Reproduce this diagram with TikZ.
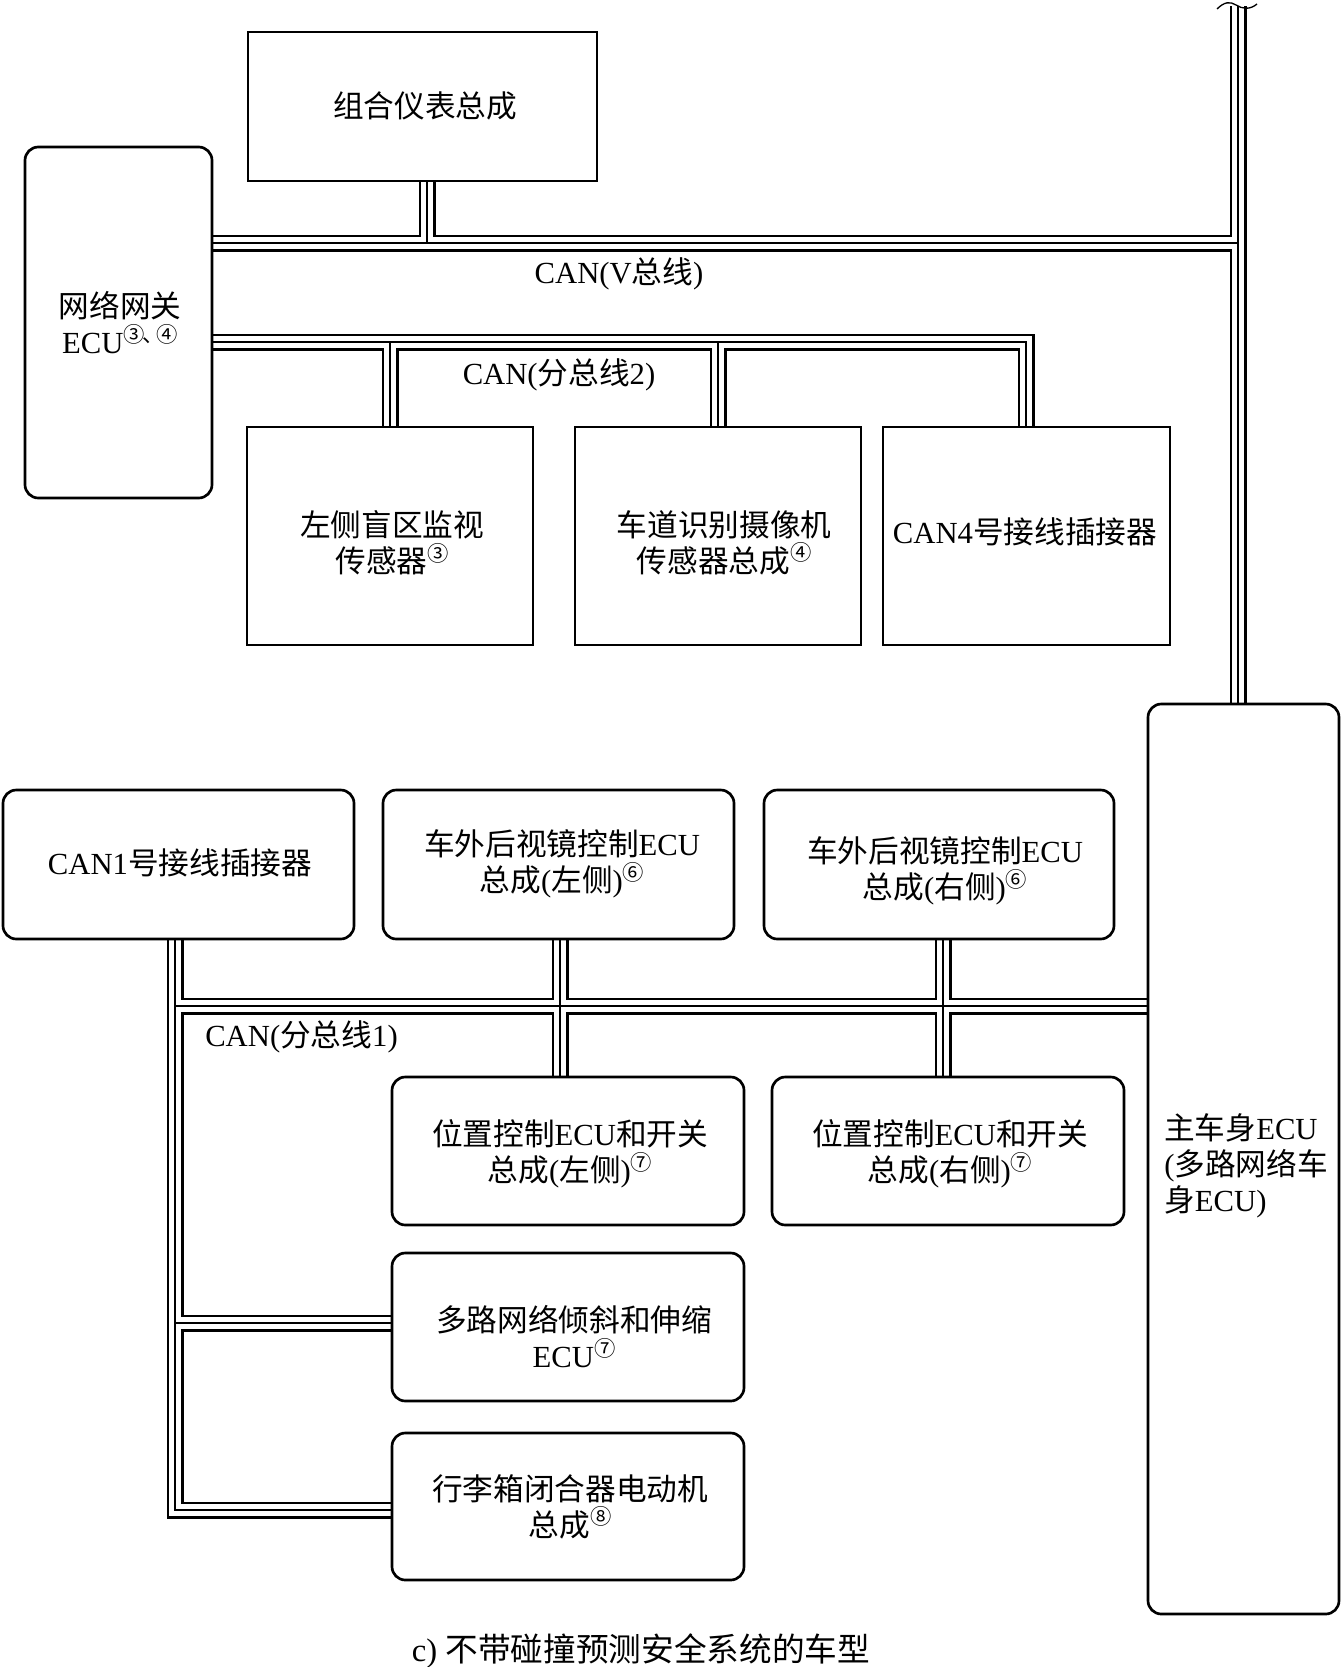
\documentclass[tikz,border=0pt]{standalone}
\usepackage{fontspec}
\setmainfont{Liberation Serif}
\newfontfamily\cjk{Noto Sans CJK SC}
\newcommand\zh[1]{{\cjk #1}}
\newcommand\cn[1]{\raisebox{0.38em}{\fontsize{16}{16}\selectfont\cjk #1}}
\usetikzlibrary{backgrounds}
\pgfdeclarelayer{bottom}
\pgfsetlayers{bottom,background,main}
\newcommand\bx[6]{\node[#2,minimum width={(#5-#3)*0.75pt},minimum height={(#6-#4)*0.75pt}] (#1) at ({(#3+#5)/2},{(#4+#6)/2}) {};}
\begin{document}
\begin{tikzpicture}[x=0.75pt,y=-0.75pt,
  sbox/.style={draw,fill=white,line width=2pt,inner sep=0pt,outer sep=0pt},
  rbox/.style={sbox,rounded corners=10pt},
  txt/.style={align=center,inner sep=0pt,font=\fontsize{23}{27}\selectfont},
  busout/.style={line width=12.75pt,line join=miter},
  busin/.style={white,line width=8.7pt,line join=miter},
  busmid/.style={line width=0.8pt,line join=miter}]
\begin{pgfonlayer}{bottom}
\fill[white] (0,0) rectangle (1341,1667);
\end{pgfonlayer}
\useasboundingbox (0,0) rectangle (1341,1667);

% boxes
\bx{cm}{sbox}{248}{32}{597}{181}
\bx{gw}{rbox}{25}{147}{212}{498}
\bx{s1}{sbox}{247}{427}{533}{645}
\bx{s2}{sbox}{575}{427}{861}{645}
\bx{s3}{sbox}{883}{427}{1170}{645}
\bx{mb}{rbox}{1148}{704}{1339}{1614}
\bx{r1}{rbox}{3}{790}{354}{939}
\bx{r2}{rbox}{383}{790}{734}{939}
\bx{r3}{rbox}{764}{790}{1114}{939}
\bx{p1}{rbox}{392}{1077}{744}{1225}
\bx{p2}{rbox}{772}{1077}{1124}{1225}
\bx{t1}{rbox}{392}{1253}{744}{1401}
\bx{t2}{rbox}{392}{1433}{744}{1580}

% junction coordinates
\coordinate (vj) at (1238,243);
\coordinate (cj) at (427,243);
\coordinate (rtop) at (1238,6);
\coordinate (b2c) at (1026,342);
\coordinate (b1v) at (175,1510);
\coordinate (b1h) at (175,1006);
\coordinate (b1t) at (175,1323);
\coordinate (xl) at (560,1006);
\coordinate (xr) at (943,1006);

\newcommand\allbus[1]{%
  \draw[#1] (gw.east |- vj) -- (vj);
  \draw[#1] (cm.south -| cj) -- (cj);
  \draw[#1] (rtop) -- (mb.north -| rtop);
  \draw[#1] (gw.east |- b2c) -- (b2c) -- (b2c |- s3.north);
  \draw[#1] (s1.north |- b2c) -- (s1.north);
  \draw[#1] (s2.north |- b2c) -- (s2.north);
  \draw[#1] (r1.south -| b1v) -- (b1v) -- (t2.west |- b1v);
  \draw[#1] (b1h) -- (mb.west |- b1h);
  \draw[#1] (b1t) -- (t1.west |- b1t);
  \draw[#1] (r2.south -| xl) -- (p1.north -| xl);
  \draw[#1] (r3.south -| xr) -- (p2.north -| xr);
}
\begin{pgfonlayer}{background}
\allbus{busout}
\allbus{busin}
\allbus{busmid}
\end{pgfonlayer}

% break mark at top of right bus
\draw[line width=1pt] (1217,9) .. controls (1224,2) and (1230,1) .. (1236,5) .. controls (1242,9) and (1250,10) .. (1257,4);

% texts
\node[txt] (tcm) at (425,106) {\zh{组合仪表总成}};
\node[txt] (tgw) at (120,323) {\zh{网络网关}\\ECU\cn{③\kern-0.1em、\kern-0.35em④}};
\node[txt] (ts1) at (392,543) {\zh{左侧盲区监视}\\\zh{传感器}\cn{③}};
\node[txt] (ts2) at (724,543) {\zh{车道识别摄像机}\\\zh{传感器总成}\cn{④}};
\node[txt] (ts3) at (1025,532) {CAN4\zh{号接线插接器}};
\node[txt] (tr1) at (180,863) {CAN1\zh{号接线插接器}};
\node[txt] (tr2) at (562,864) {\zh{车外后视镜控制}ECU\\\zh{总成}(\zh{左侧})\cn{⑥}};
\node[txt] (tr3) at (945,871) {\zh{车外后视镜控制}ECU\\\zh{总成}(\zh{右侧})\cn{⑥}};
\node[txt] (tp1) at (570,1154) {\zh{位置控制}ECU\zh{和开关}\\\zh{总成}(\zh{左侧})\cn{⑦}};
\node[txt] (tp2) at (950,1154) {\zh{位置控制}ECU\zh{和开关}\\\zh{总成}(\zh{右侧})\cn{⑦}};
\node[txt] (tt1) at (574,1337) {\zh{多路网络倾斜和伸缩}\\ECU\cn{⑦}};
\node[txt] (tt2) at (570,1507) {\zh{行李箱闭合器电动机}\\\zh{总成}\cn{⑧}};
\node[txt,align=left,anchor=west] (tmb) at (1164,1166) {\zh{主车身}ECU\\(\zh{多路网络车}\\\zh{身}ECU)};
\node[txt] (lv) at (619,274) {CAN(V\zh{总线})};
\node[txt] (l2) at (559,375) {CAN(\zh{分总线}2)};
\node[txt,anchor=west] (l1) at (205,1037) {CAN(\zh{分总线}1)};
\node[txt,font=\fontsize{24.5}{28}\selectfont] (cap) at (641,1651) {c) \zh{不带碰撞预测安全系统的车型}};
\end{tikzpicture}
\end{document}
